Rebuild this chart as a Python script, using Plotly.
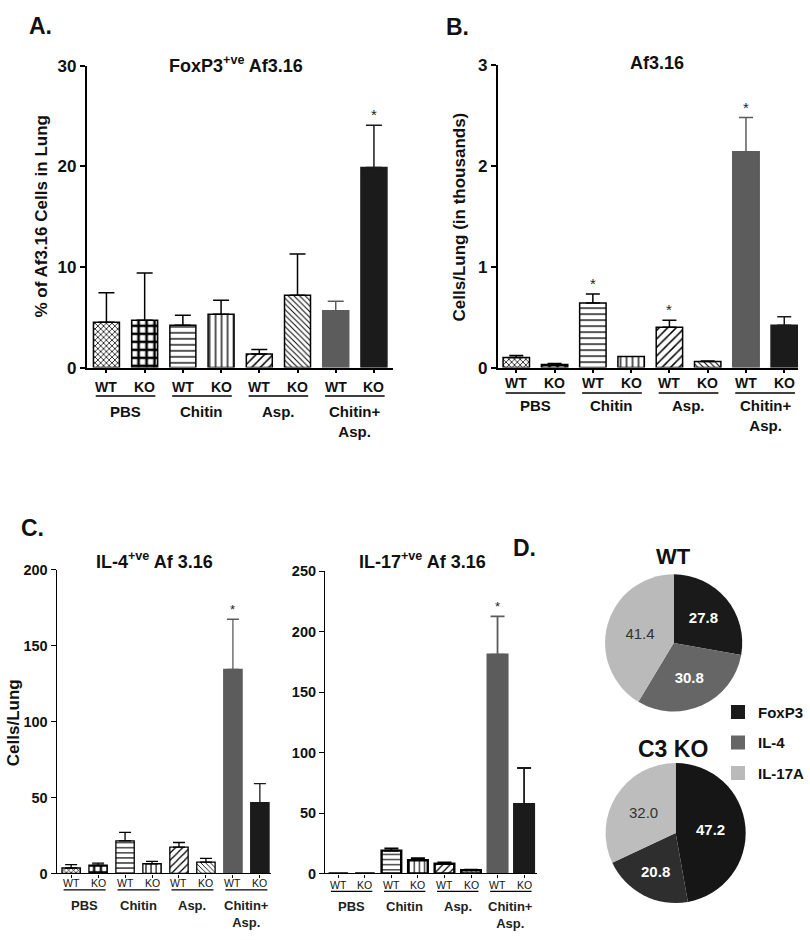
import plotly.graph_objects as go

# ---- data ----
GENOTYPES = ["WT", "KO", "WT", "KO", "WT", "KO", "WT", "KO"]
GROUPS = ["PBS", "Chitin", "Asp.", "Chitin+<br>Asp."]

# A. FoxP3+ve Af3.16, % of Af3.16 cells in lung
foxp3_pct = [4.5, 4.7, 4.2, 5.3, 1.35, 7.2, 5.65, 19.9]
foxp3_sem = [2.95, 4.7, 1.0, 1.4, 0.45, 4.1, 0.95, 4.2]
foxp3_sig = [7]

# B. Af3.16 cells/lung (thousands)
af316_cells = [0.10, 0.03, 0.64, 0.11, 0.40, 0.06, 2.14, 0.42]
af316_sem = [0.02, 0.01, 0.09, 0.0, 0.07, 0.005, 0.34, 0.085]
af316_sig = [2, 4, 6]

# C. IL-4+ve / IL-17+ve Af 3.16 cells/lung
il4_cells = [3.6, 5.4, 21.5, 6.4, 17.4, 7.5, 134.4, 46.6]
il4_sem = [2.2, 1.4, 5.5, 1.5, 3.0, 2.4, 33.0, 12.5]
il4_sig = [6]
il17_cells = [0, 0, 18.9, 11.0, 8.1, 2.7, 181.0, 57.3]
il17_sem = [0, 0, 1.9, 1.7, 1.1, 0.5, 31.7, 30.0]
il17_sig = [6]

# D. share of each subset
PIE_LABELS = ["FoxP3", "IL-4", "IL-17A"]
wt_share = [27.8, 30.8, 41.4]
ko_share = [47.2, 20.8, 32.0]

# ---- styling ----
W, H = 810, 940
FONT = "Liberation Sans, Arial, sans-serif"
GRAY_BAR = "#5c5c5c"
BLACK_BAR = "#1b1b1b"

BAR_STYLES = [
    dict(shape="x", size=4, solidity=0.35),
    dict(shape="+", size=8, solidity=0.55),
    dict(shape="-", size=6, solidity=0.22),
    dict(shape="|", size=6, solidity=0.22),
    dict(shape="/", size=6, solidity=0.25),
    dict(shape="\\", size=4, solidity=0.25),
    dict(fill=GRAY_BAR),
    dict(fill=BLACK_BAR),
]


def px(x):
    return x / W


def py(y):
    return 1 - y / H


fig = go.Figure()


def add_bar_panel(n, values, errs, sig, cfg):
    xa = "x" if n == 1 else f"x{n}"
    ya = "y" if n == 1 else f"y{n}"
    for i, (v, e) in enumerate(zip(values, errs)):
        st = BAR_STYLES[i]
        if "fill" in st:
            marker = dict(color=st["fill"], line=dict(color=st["fill"], width=cfg["line_w"]))
            ecol = st["fill"]
        else:
            marker = dict(
                color="white",
                line=dict(color="black", width=cfg["line_w"]),
                pattern=dict(shape=st["shape"], size=st["size"] * cfg["pat"],
                             solidity=st["solidity"], fgcolor="black",
                             bgcolor="white", fillmode="replace"),
            )
            ecol = "black"
        fig.add_trace(go.Bar(
            x=[i], y=[v], width=cfg["bar_w"], marker=marker,
            error_y=dict(type="data", symmetric=False, array=[e], arrayminus=[0],
                         color=ecol, thickness=cfg["err_t"], width=cfg["cap"],
                         visible=e > 0),
            xaxis=xa, yaxis=ya, showlegend=False,
        ))
        if i in sig:
            fig.add_annotation(x=i, y=v + e, xref=xa, yref=ya, text="*",
                               showarrow=False, yanchor="bottom", yshift=0,
                               font=dict(size=cfg["star"], color="#222"))

    top, bottom = cfg["dom_y"]
    h = bottom - top
    axis_style = dict(showline=True, linecolor="black", linewidth=cfg["axis_w"],
                      ticks="outside", tickcolor="black", tickwidth=cfg["axis_w"],
                      showgrid=False, zeroline=False)
    fig.update_layout(**{
        ("xaxis" if n == 1 else f"xaxis{n}"): dict(
            domain=[px(cfg["dom_x"][0]), px(cfg["dom_x"][1])],
            range=cfg["xr"], anchor=ya, tickvals=list(range(8)),
            showticklabels=False, ticklen=cfg["xticklen"], **axis_style),
        ("yaxis" if n == 1 else f"yaxis{n}"): dict(
            domain=[py(bottom), py(top)],
            range=cfg["yr"], dtick=cfg["dtick"], anchor=xa, ticklen=5,
            tickfont=cfg["tick_font"], **axis_style),
    })

    # genotype labels, underlines and treatment groups below the axis
    def below(y_px):
        return -(y_px - bottom) / h

    for i, geno in enumerate(GENOTYPES):
        fig.add_annotation(x=i, y=below(cfg["geno_y"]), xref=xa, yref=f"{ya} domain",
                           text=geno, showarrow=False, yanchor="middle",
                           font=cfg["geno_font"])
    for g, name in enumerate(GROUPS):
        fig.add_shape(type="line", xref=xa, yref=f"{ya} domain",
                      x0=2 * g - 0.28, x1=2 * g + 1.28,
                      y0=below(cfg["underline"]), y1=below(cfg["underline"]),
                      line=dict(color="black", width=cfg["axis_w"]))
        fig.add_annotation(x=2 * g + 0.5, y=below(cfg["group_top"]), xref=xa,
                           yref=f"{ya} domain", text=name, showarrow=False,
                           yanchor="top", font=cfg["group_font"])


big = dict(line_w=1.5, err_t=1.5, axis_w=1.5, pat=1.0, star=15, xticklen=4,
           geno_font=dict(family=FONT, size=14, weight="bold", color="#111"),
           tick_font=dict(family=FONT, size=17, weight="bold", color="#111"),
           group_font=dict(family=FONT, size=15, weight="bold", color="#111"))

add_bar_panel(1, foxp3_pct, foxp3_sem, foxp3_sig, dict(
    big, dom_x=(87, 395), dom_y=(58, 366), xr=[-0.52, 7.5], yr=[0, 30], dtick=10,
    bar_w=0.68, cap=8, geno_y=386, underline=395, group_top=400))
add_bar_panel(2, af316_cells, af316_sem, af316_sig, dict(
    big, dom_x=(500, 802), dom_y=(57.3, 366), xr=[-0.49, 7.36], yr=[0, 3], dtick=1,
    bar_w=0.69, cap=7, geno_y=382, underline=392, group_top=394))

small = dict(line_w=1.3, err_t=1.3, axis_w=1.3, pat=0.85, star=13, xticklen=3,
             geno_font=dict(family=FONT, size=10.5, color="#111"),
             tick_font=dict(family=FONT, size=14.5, weight="bold", color="#111"),
             group_font=dict(family=FONT, size=13, weight="bold", color="#222"))

add_bar_panel(3, il4_cells, il4_sem, il4_sig, dict(
    small, dom_x=(57, 272), dom_y=(572.3, 882.3), xr=[-0.535, 7.4], yr=[0, 200], dtick=50,
    bar_w=0.68, cap=6, geno_y=892, underline=899, group_top=905))
add_bar_panel(4, il17_cells, il17_sem, il17_sig, dict(
    small, line_w=2.4, err_t=1.8, dom_x=(326.7, 540), dom_y=(574, 882.3), xr=[-0.5, 7.5],
    yr=[0, 250], dtick=50, bar_w=0.74, cap=7, geno_y=894, underline=900.5, group_top=906))

# ---- D. pies ----
WT_COLORS = ["#1a1a1a", "#666666", "#bababa"]
KO_COLORS = ["#161616", "#2e2e2e", "#bdbdbd"]


def pie_text(vals):
    return [f"<b>{v:.1f}</b>" if lab != "IL-17A" else f"{v:.1f}"
            for lab, v in zip(PIE_LABELS, vals)]


for vals, colors, (cx, cy, r) in [
    (wt_share, WT_COLORS, (677, 647, 70)),
    (ko_share, KO_COLORS, (679, 841, 71.5)),
]:
    fig.add_trace(go.Pie(
        labels=PIE_LABELS, values=vals, sort=False, direction="clockwise", rotation=0,
        marker=dict(colors=colors, line=dict(width=0)),
        text=pie_text(vals), textinfo="text", textposition="inside",
        insidetextorientation="horizontal",
        textfont=dict(family=FONT, size=15, color=["white", "white", "#333333"]),
        domain=dict(x=[px(cx - r), px(cx + r)], y=[py(cy + r), py(cy - r)]),
        showlegend=False,
    ))

# legend keys (one group each so the rows can be spaced like the original)
for lab, col in zip(PIE_LABELS, WT_COLORS):
    fig.add_trace(go.Scatter(
        x=[None], y=[None], mode="markers", name=lab, legendgroup=lab,
        marker=dict(symbol="square", size=14, color=col), hoverinfo="skip",
    ))


# ---- text ----
def label(x, y, text, size, angle=0, family=FONT, **kw):
    fig.add_annotation(x=px(x), y=py(y), xref="paper", yref="paper", text=text,
                       showarrow=False, textangle=angle, xanchor="center", yanchor="middle",
                       font=dict(family=family, size=size, color="#111", **kw))


label(41, 17, "<b>A.</b>", 23)
label(460, 18, "<b>B.</b>", 23)
label(33, 530, "<b>C.</b>", 23)
label(527, 550, "<b>D.</b>", 23)

label(237, 57, "<b>FoxP3<sup>+ve</sup> Af3.16</b>", 18)
label(660, 55, "<b>Af3.16</b>", 18)
label(155, 563, "<b>IL-4<sup>+ve</sup> Af 3.16</b>", 18)
label(425, 563, "<b>IL-17<sup>+ve</sup> Af 3.16</b>", 18)

label(42, 212, "<b>% of Af3.16 Cells in Lung</b>", 17, angle=-90)
label(462, 212, "<b>Cells/Lung (in thousands)</b>", 17, angle=-90)
label(13, 728, "<b>Cells/Lung</b>", 17, angle=-90)

label(677, 559, "<b>WT</b>", 22)
label(676, 755, "<b>C3 KO</b>", 23)

fig.update_layout(
    width=W, height=H,
    margin=dict(l=0, r=0, t=0, b=0),
    paper_bgcolor="white", plot_bgcolor="white",
    barmode="overlay",
    font=dict(family=FONT, color="#111"),
    legend=dict(x=px(722), y=py(701), xanchor="left", yanchor="top",
                font=dict(family=FONT, size=15, weight="bold", color="#111"),
                tracegroupgap=8, bgcolor="rgba(0,0,0,0)", itemclick=False),
)

# page body has a default 8px margin; drop it so the figure sits at the window origin
fig.write_html("out.html", config={"displayModeBar": False},
               post_script="document.body.style.margin='0';")
